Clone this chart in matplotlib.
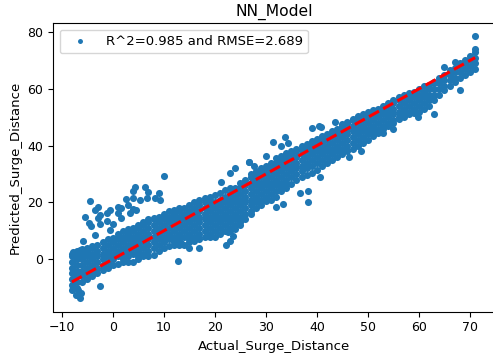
import matplotlib
matplotlib.use("Agg")
import matplotlib.pyplot as plt

# band of the cloud
col_x = list(range(-8, 72))
col_y = [
    [-11, -9, -7, -5, -3, -1, 1, 2],
    [-10, -8, -6, -4, -2, 0, 2, 3],
    [-8, -6, -4, -2, 0, 2, 3.5],
    [-7, -5, -3, -1, 1, 3, 4],
    [-6, -4, -2, 0, 2, 4, 4.5],
    [-5, -3, -1, 1, 3, 5],
    [-3.8, -2, 0, 2, 4, 6],
    [-3, -1, 1, 3, 5, 7],
    [-2, 0, 2, 4, 6, 7.5],
    [-1.5, 1, 3, 5, 7, 9],
    [-1, 0, 2, 4, 6, 8, 10],
    [-1, 1, 3, 5, 7, 9, 10.5],
    [-0.8, 2, 4, 6, 8, 10, 11],
    [0, 1, 3, 5, 7, 9, 11, 12],
    [1, 2, 4, 6, 8, 10, 12, 13],
    [1.2, 3, 5, 7, 9, 11, 13, 14],
    [1.5, 4, 6, 8, 10, 12, 14, 14.5],
    [3, 5, 7, 9, 11, 13, 15],
    [3.8, 6, 8, 10, 12, 14, 16],
    [4.5, 7, 9, 11, 13, 15, 17],
    [5, 6, 8, 10, 12, 14, 16, 17.5],
    [5, 7, 9, 11, 13, 15, 17, 18],
    [5, 8, 10, 12, 14, 16, 18],
    [6, 7, 9, 11, 13, 15, 17, 19],
    [6.5, 8, 10, 12, 14, 16, 18, 20],
    [7, 9, 11, 13, 15, 17, 19, 21],
    [8, 10, 12, 14, 16, 18, 20, 21.5],
    [8, 9, 11, 13, 15, 17, 19, 21, 22],
    [8, 10, 12, 14, 16, 18, 20, 22.5],
    [9, 11, 13, 15, 17, 19, 21, 23.5],
    [10, 12, 14, 16, 18, 20, 22, 24.5],
    [10, 11, 13, 15, 17, 19, 21, 23, 25],
    [10.5, 12, 14, 16, 18, 20, 22, 24, 25],
    [12, 13, 15, 17, 19, 21, 23, 25, 27],
    [14, 16, 18, 20, 22, 24, 26, 28],
    [16, 17, 19, 21, 23, 25, 27, 29, 30],
    [18, 20, 22, 24, 26, 28, 30, 31],
    [19, 21, 23, 25, 27, 29, 31, 32],
    [20.5, 22, 24, 26, 28, 30, 32, 33],
    [21, 23, 25, 27, 29, 31, 33, 34],
    [22, 24, 26, 28, 30, 32, 34, 35.5],
    [24, 25, 27, 29, 31, 33, 35, 36.5],
    [25, 26, 28, 30, 32, 34, 36, 37.5],
    [26.5, 29, 31, 33, 35, 37, 38],
    [28, 30, 32, 34, 36, 38, 39],
    [29, 31, 33, 35, 37, 39, 40],
    [29.5, 32, 34, 36, 38, 40, 40.5],
    [30.5, 33, 35, 37, 39, 41, 41.5],
    [31.5, 34, 36, 38, 40, 42, 42.5],
    [33, 35, 37, 39, 41, 43, 43.5],
    [34, 36, 38, 40, 42, 44],
    [35, 37, 39, 41, 43, 45],
    [36, 38, 40, 42, 44, 46],
    [37, 39, 41, 43, 45, 47, 47.5],
    [38, 40, 42, 44, 46, 48, 48.5],
    [39, 41, 43, 45, 47, 49, 49.5],
    [40, 42, 44, 46, 48, 50, 50.5],
    [41, 43, 45, 47, 49, 51],
    [42, 44, 46, 48, 50, 52],
    [43.5, 45, 47, 49, 51, 52.5],
    [44.5, 46, 48, 50, 52, 53],
    [46, 47, 49, 51, 53, 54],
    [47, 48, 50, 52, 54, 55],
    [48, 49, 51, 53, 55, 56],
    [49.5, 50, 52, 54, 56, 57],
    [50, 51, 53, 55, 57, 58],
    [51, 52, 54, 56, 58, 58.5],
    [51.5, 53, 55, 57, 59],
    [52, 54, 56, 58, 60],
    [53, 55, 57, 59, 61],
    [54, 56, 58, 60, 61.5],
    [56, 58, 60, 62, 62.5],
    [58, 60, 62, 64],
    [59.5, 61, 63, 65],
    [61, 63, 65, 66.5],
    [62.5, 64, 66, 67.5],
    [64, 66, 68, 69],
    [65, 67, 69, 70],
    [66, 68, 70, 71.5],
    [67, 69, 71, 73, 74],
]

# stray points outside the band
stray_x = [10, -4.4, 4.4, 6.4, 4, 6.9, 9, 2.6, 3.9, 5.3, 6.7, 8.3, 9.3, -2.8, -3.5, -0.5,
           1.1, 1.7, 3, 4, -5.5, -2.8, -2.4, -1.1, -4.7, -4.2, -2.4, -1.1, 1.1, 1.7, 3.3,
           4.6, 0, -0.6, -3.5, -5.9, -7.8, -6.5, 12.7, -2.4, -6.5, -7.1, -6.2, -6.8, 22.9,
           23.9, 26.8, 21.2, 22.2, 23.5, 22.9, 16.9, 14.9, 13.3, 22.6, 71, 68, 63,
           65, 67, 31.4, 33.8, 34.4, 33, 39, 40.5, 40.9, 43.6, 30, 26.7, 27.7, 38.2,
           46.2, 55, 53, 59.8, 36.6, 38.2, 33.4, 32, 40.6, 48.6]
stray_y = [29.3, 20.5, 25.5, 25.3, 24, 23.7, 23.2, 21.3, 21.4, 20.8, 21.6, 21.4, 20.8, 18.5,
           17.3, 17.3, 18.3, 18, 19, 17.7, 14.8, 14.5, 15.6, 16.2, 12.9, 11.6, 12.3, 13.5,
           16.2, 14.5, 16.2, 17.4, 12.3, 10.2, 8.5, 6.5, 2.6, 3.4, -0.7, -9.5, -13.8, -12.6,
           -12, -11, 30.4, 32, 34.3, 27.3, 4.9, 8.1, 6.6, 3.9, 3.9, 5.6, 9.6, 78.7, 59.6, 51,
           67.6, 69.6, 41.4, 43, 41, 39.9, 46.2, 46.9, 46.4, 48.4, 36.3, 34.3, 32.9, 20.2,
           36, 46, 44.4, 50.2, 23.2, 24.2, 19.4, 18.5, 29, 38.2]

fit_line = [-8, 71]
legend_text = "R^2=0.985 and RMSE=2.689"

actual = []
predicted = []
for x, ys in zip(col_x, col_y):
    for y in ys:
        actual.append(x)
        predicted.append(y)
actual += stray_x
predicted += stray_y

fig = plt.figure(figsize=(4.93, 3.58), dpi=100)
# right spine falls just past the image edge in the reference
ax = fig.add_axes([53 / 493, 1 - 311.5 / 358, (496 - 53) / 493, (311.5 - 23) / 358])

ax.scatter(actual, predicted, s=26, color="#1f77b4", linewidths=0, label=legend_text)
ax.plot(fit_line, fit_line, color="red", linestyle="--", linewidth=2.2)

ax.set_xlim(-11.7, 75.1)
ax.set_ylim(-18.4, 83.2)
ax.set_xticks(range(-10, 71, 10))
ax.set_yticks(range(0, 81, 20))
ax.tick_params(labelsize=9)
ax.set_xlabel("Actual_Surge_Distance", fontsize=9.5, labelpad=4)
ax.set_ylabel("Predicted_Surge_Distance", fontsize=9.5, labelpad=4)
ax.set_title("NN_Model", fontsize=11.2, pad=5)
ax.legend(loc="upper left", fontsize=9.5, markerscale=0.7, handlelength=2.3)

fig.savefig("out.png", dpi=100)
